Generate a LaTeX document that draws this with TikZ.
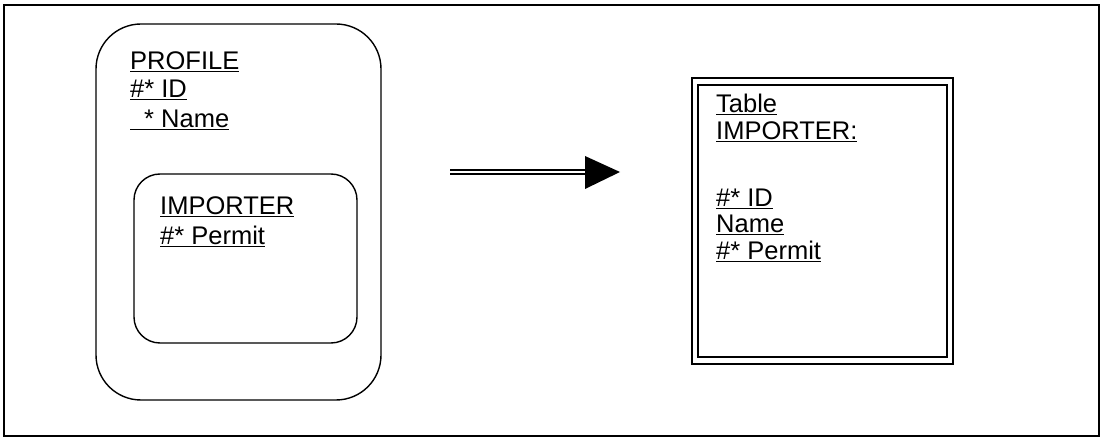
\documentclass[tikz,border=0pt]{standalone}
\usepackage{fontspec}
\setmainfont{Liberation Sans}
\begin{document}
\begin{tikzpicture}[x=1pt,y=-1pt,
  txt/.style={anchor=base west,inner sep=0pt,font=\fontsize{25.5}{30}\selectfont},
  frameline/.style={draw=black,line width=1.4pt},
  entbox/.style={draw=black,line width=1.4pt}]
\useasboundingbox (0,0) rectangle (1101,438);
% outer frame
\draw[frameline] (4,5) rectangle (1099,436);
% PROFILE entity
\draw[entbox,rounded corners=45pt] (96,24) rectangle (381,400);
\draw[entbox,rounded corners=26pt] (134,174) rectangle (357,343);
\node[txt] (p1) at (130,70) {\underline{PROFILE}};
\node[txt] (p2) at (130,98) {\underline{\#* ID}};
\node[txt] (p3) at (130,128) {\underline{\hspace{14pt}* Name}};
\node[txt] (i1) at (160,215) {\underline{IMPORTER}};
\node[txt] (i2) at (160,245) {\underline{\#* Permit}};
% arrow
\coordinate (a0) at (450,172);
\coordinate (a1) at (586,172);
\coordinate (tip) at (620,172);
\draw[line width=1.7pt,double=white,double distance=1.8pt] (a0) -- (a1);
\fill[black] (585,156) -- (tip) -- (585,189) -- cycle;
% table
\draw[line width=1.4pt] (692,78) rectangle (953,364);
\draw[line width=2.6pt] (698,85) rectangle (947,357);
\node[txt] (t1) at (716,113) {\underline{Table}};
\node[txt] (t2) at (716,140) {\underline{IMPORTER:}};
\node[txt] (t3) at (716,207) {\underline{\#* ID}};
\node[txt] (t4) at (716,233) {\underline{Name}};
\node[txt] (t5) at (716,260) {\underline{\#* Permit}};
\end{tikzpicture}
\end{document}
